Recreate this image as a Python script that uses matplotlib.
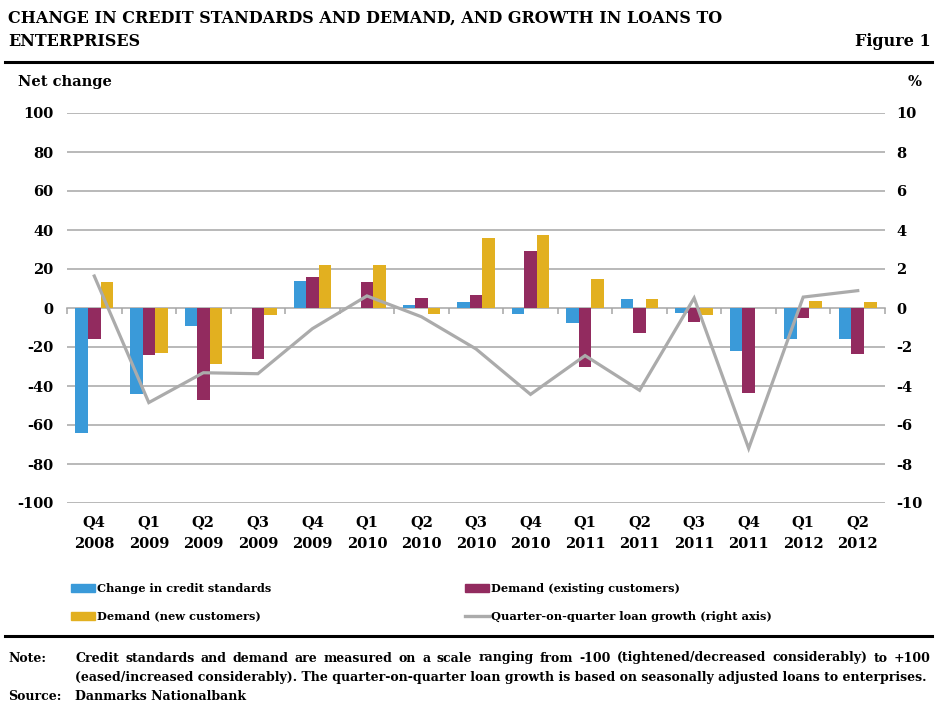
import matplotlib
matplotlib.use("Agg")
import matplotlib.pyplot as plt
import numpy as np
from matplotlib.patches import Rectangle
from matplotlib.lines import Line2D
from matplotlib.transforms import blended_transform_factory

quarters = ["Q4\n2008", "Q1\n2009", "Q2\n2009", "Q3\n2009", "Q4\n2009", "Q1\n2010", "Q2\n2010",
            "Q3\n2010", "Q4\n2010", "Q1\n2011", "Q2\n2011", "Q3\n2011", "Q4\n2011", "Q1\n2012", "Q2\n2012"]
credit_standards = [-64, -44, -9, 0, 14, 0, 1.5, 3, -3, -7.5, 4.6, -2.4, -22, -16, -15.7]
demand_existing = [-16, -24, -47, -26, 16, 13.5, 5, 6.7, 29.4, -30, -12.8, -7, -43.6, -5.3, -23.6]
demand_new = [13.3, -23, -28.7, -3.4, 22, 22, -2.9, 36, 37.4, 14.9, 4.6, -3.4, 0, 3.6, 3.1]
loan_growth = [1.64, -4.85, -3.32, -3.37, -1.06, 0.62, -0.45, -2.1, -4.43, -2.44, -4.22, 0.51, -7.2, 0.56, 0.89]

left_ticks = [100, 80, 60, 40, 20, 0, -20, -40, -60, -80, -100]
right_ticks = [10, 8, 6, 4, 2, 0, -2, -4, -6, -8, -10]

c_blue = "#3A9AD9"
c_purple = "#922B5F"
c_yellow = "#E2B020"
c_line = "#ABABAB"
c_grid = "#A6A6A6"

W, H = 935, 707
fig = plt.figure(figsize=(W / 100, H / 100), dpi=100)

def fx(px):
    return px / W

def fy(py):
    return 1 - py / H

SERIF = "DejaVu Serif"

ax = fig.add_axes([fx(67), fy(503), fx(885) - fx(67), fy(113) - fy(503)])
x = np.arange(len(quarters))
bw = 0.23
ax.bar(x - bw, credit_standards, bw, color=c_blue, zorder=2)
ax.bar(x, demand_existing, bw, color=c_purple, zorder=2)
ax.bar(x + bw, demand_new, bw, color=c_yellow, zorder=2)
ax.set_xlim(-0.5, len(quarters) - 0.5)
ax.set_ylim(-100, 100)
ax.set_yticks(left_ticks)
ax.set_yticklabels([str(v) for v in left_ticks])
for v in left_ticks:
    if v != 0:
        ax.axhline(v, color=c_grid, lw=1.1, zorder=1)
for s in ["top", "right", "left"]:
    ax.spines[s].set_visible(False)
ax.spines["bottom"].set_position(("data", 0))
ax.spines["bottom"].set_color(c_grid)
ax.spines["bottom"].set_linewidth(1.1)
ax.spines["bottom"].set_zorder(1)
ax.set_xticks(np.arange(-0.5, len(quarters), 1.0))
ax.set_xticklabels([])
ax.tick_params(axis="x", direction="out", length=4, color=c_grid, width=1.1)
ax.tick_params(axis="y", length=0, pad=10)
for lab in ax.get_yticklabels():
    lab.set_fontfamily(SERIF)
    lab.set_fontweight("bold")
    lab.set_fontsize(10.5)

trans = blended_transform_factory(ax.transData, ax.transAxes)
for i, q in enumerate(quarters):
    ax.text(i, -0.032, q, transform=trans, ha="center", va="top", fontsize=10.5,
            family=SERIF, fontweight="bold", linespacing=1.7)

ax2 = ax.twinx()
ax2.plot(x, loan_growth, color=c_line, lw=2.3, zorder=3, solid_joinstyle="miter")
ax2.set_ylim(-10, 10)
ax2.set_yticks(right_ticks)
ax2.set_yticklabels([str(v) for v in right_ticks])
for s in ["top", "right", "left", "bottom"]:
    ax2.spines[s].set_visible(False)
ax2.tick_params(axis="y", length=0, pad=8)
for lab in ax2.get_yticklabels():
    lab.set_fontfamily(SERIF)
    lab.set_fontweight("bold")
    lab.set_fontsize(10.5)

# Title block
tfont = dict(family=SERIF, fontweight="bold", fontsize=11.5)
fig.text(fx(8), fy(18), "CHANGE IN CREDIT STANDARDS AND DEMAND, AND GROWTH IN LOANS TO",
         ha="left", va="center", **tfont)
fig.text(fx(8), fy(42), "ENTERPRISES", ha="left", va="center", **tfont)
fig.text(fx(931), fy(42), "Figure 1", ha="right", va="center", **tfont)
fig.add_artist(Line2D([fx(5), fx(932)], [fy(62), fy(62)], color="black", lw=2.2))
fig.text(fx(18), fy(82), "Net change", ha="left", va="center", family=SERIF,
         fontweight="bold", fontsize=10.5)
fig.text(fx(922), fy(82), "%", ha="right", va="center", family=SERIF,
         fontweight="bold", fontsize=10.5)

# Legend
lfont = dict(family=SERIF, fontweight="bold", fontsize=8.2)
legend_items = [
    ("patch", c_blue, "Change in credit standards", 71, 588),
    ("patch", c_purple, "Demand (existing customers)", 465, 588),
    ("patch", c_yellow, "Demand (new customers)", 71, 616),
    ("line", c_line, "Quarter-on-quarter loan growth (right axis)", 465, 616),
]
for kind, col, label, px, py in legend_items:
    if kind == "patch":
        fig.add_artist(Rectangle((fx(px), fy(py + 4)), fx(24), (8 / H), color=col))
    else:
        fig.add_artist(Line2D([fx(px), fx(px + 24)], [fy(py), fy(py)], color=col, lw=2.4))
    fig.text(fx(px + 26), fy(py), label, ha="left", va="center", **lfont)

fig.add_artist(Line2D([fx(5), fx(932)], [fy(636), fy(636)], color="black", lw=2.2))

nfont = dict(family=SERIF, fontweight="bold", fontsize=9)
fig.text(fx(8), fy(658), "Note:", ha="left", va="center", **nfont)

# justified first note line
renderer = fig.canvas.get_renderer()
line1 = "Credit standards and demand are measured on a scale ranging from -100 (tightened/decreased considerably) to +100"
words = line1.split(" ")
word_texts = [fig.text(0, fy(658), w, ha="left", va="center", **nfont) for w in words]
widths = [t.get_window_extent(renderer).width for t in word_texts]
x0, x1 = 75, 931
gap = (x1 - x0 - sum(widths)) / (len(words) - 1)
cur = x0
for t, wd in zip(word_texts, widths):
    t.set_x(fx(cur))
    cur += wd + gap

fig.text(fx(75), fy(678), "(eased/increased considerably). The quarter-on-quarter loan growth is based on seasonally adjusted loans to enterprises.",
         ha="left", va="center", **nfont)
fig.text(fx(8), fy(697), "Source:", ha="left", va="center", **nfont)
fig.text(fx(75), fy(697), "Danmarks Nationalbank", ha="left", va="center", **nfont)

fig.savefig("out.png", dpi=100)
